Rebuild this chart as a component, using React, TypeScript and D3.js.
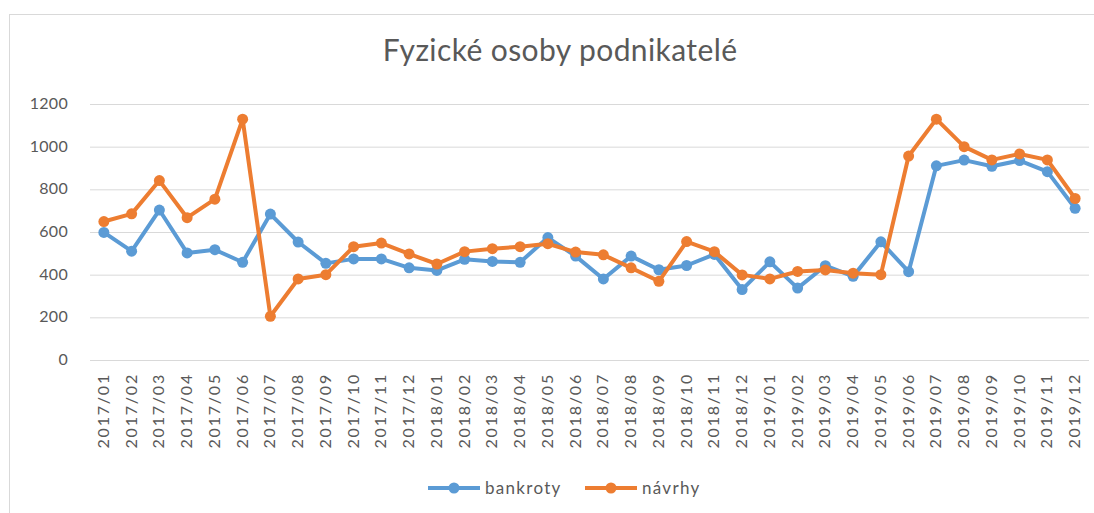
import React, { useEffect, useRef } from 'react';
import * as d3 from 'd3';

const months = [
  '2017/01', '2017/02', '2017/03', '2017/04', '2017/05', '2017/06', '2017/07', '2017/08', '2017/09', '2017/10', '2017/11', '2017/12',
  '2018/01', '2018/02', '2018/03', '2018/04', '2018/05', '2018/06', '2018/07', '2018/08', '2018/09', '2018/10', '2018/11', '2018/12',
  '2019/01', '2019/02', '2019/03', '2019/04', '2019/05', '2019/06', '2019/07', '2019/08', '2019/09', '2019/10', '2019/11', '2019/12',
];

const bankroty = [
  598, 510, 703, 502, 517, 458, 684, 553, 453, 474, 474, 432,
  420, 472, 462, 458, 574, 487, 380, 487, 423, 443, 495, 330,
  460, 337, 442, 392, 554, 414, 910, 937, 908, 935, 883, 711,
];

const navrhy = [
  649, 685, 841, 667, 754, 1129, 205, 380, 400, 531, 548, 497,
  450, 508, 522, 531, 545, 506, 493, 432, 369, 555, 508, 399,
  380, 415, 422, 407, 400, 956, 1129, 1000, 938, 966, 938, 757,
];

const yTicks = [0, 200, 400, 600, 800, 1000, 1200];

const series = [
  { name: 'bankroty', values: bankroty, color: '#5B9BD5' },
  { name: 'návrhy', values: navrhy, color: '#ED7D31' },
];

const W = 1094;
const H = 513;
const FONT = 'Lato, "Open Sans", sans-serif';

export default function App() {
  const ref = useRef<SVGSVGElement>(null);

  useEffect(() => {
    if (!ref.current) return;
    const svg = d3.select(ref.current);
    svg.selectAll('*').remove();

    // chart frame (cut off at right/bottom like the screenshot)
    svg.append('rect')
      .attr('x', 9.5).attr('y', 14.5)
      .attr('width', W + 20).attr('height', H + 20)
      .attr('fill', '#fff').attr('stroke', '#d9d9d9');

    const x = d3.scalePoint<string>().domain(months).range([90, 1089]).padding(0.5);
    const y = d3.scaleLinear().domain([0, 1200]).range([360, 104]);

    svg.append('text')
      .attr('x', 560).attr('y', 61)
      .attr('text-anchor', 'middle')
      .attr('font-family', FONT)
      .attr('font-size', 30)
      .attr('letter-spacing', 0.4)
      .attr('fill', '#595959')
      .text('Fyzické osoby podnikatelé');

    // gridlines + y labels
    const grid = svg.append('g');
    grid.selectAll('line').data(yTicks).join('line')
      .attr('x1', 90).attr('x2', 1089)
      .attr('y1', (d) => y(d) + 0.5).attr('y2', (d) => y(d) + 0.5)
      .attr('stroke', '#d9d9d9').attr('stroke-width', 1);
    grid.selectAll('text').data(yTicks).join('text')
      .attr('x', 68).attr('y', (d) => y(d) + 5)
      .attr('text-anchor', 'end')
      .attr('font-family', FONT).attr('font-size', 16)
      .attr('letter-spacing', 0.3)
      .attr('fill', '#595959')
      .text((d) => d);

    // x labels rotated
    svg.append('g').selectAll('text').data(months).join('text')
      .attr('transform', (d) => `translate(${(x(d) ?? 0) + 5},373) rotate(-90)`)
      .attr('text-anchor', 'end')
      .attr('font-family', FONT).attr('font-size', 16)
      .attr('letter-spacing', 1.8)
      .attr('fill', '#595959')
      .text((d) => d);

    const line = d3.line<number>()
      .x((_, i) => x(months[i]) ?? 0)
      .y((d) => y(d));

    series.forEach((s) => {
      const g = svg.append('g');
      g.append('path')
        .attr('d', line(s.values) ?? '')
        .attr('fill', 'none')
        .attr('stroke', s.color)
        .attr('stroke-width', 4)
        .attr('stroke-linejoin', 'round');
      g.selectAll('circle').data(s.values).join('circle')
        .attr('cx', (_, i) => x(months[i]) ?? 0)
        .attr('cy', (d) => y(d))
        .attr('r', 5.5)
        .attr('fill', s.color);
    });

    // legend
    const legendX = [428, 585];
    series.forEach((s, i) => {
      const lg = svg.append('g').attr('transform', `translate(${legendX[i]},488)`);
      lg.append('line').attr('x1', 0).attr('x2', 52).attr('y1', 0).attr('y2', 0)
        .attr('stroke', s.color).attr('stroke-width', 4);
      lg.append('circle').attr('cx', 26).attr('cy', 0).attr('r', 5.5).attr('fill', s.color);
      lg.append('text').attr('x', 57).attr('y', 6)
        .attr('font-family', FONT).attr('font-size', 17)
        .attr('letter-spacing', 1.3)
        .attr('fill', '#595959')
        .text(s.name);
    });
  }, []);

  return (
    <svg ref={ref} width={W} height={H} style={{ position: 'absolute', left: 0, top: 0, background: '#fff' }} />
  );
}
